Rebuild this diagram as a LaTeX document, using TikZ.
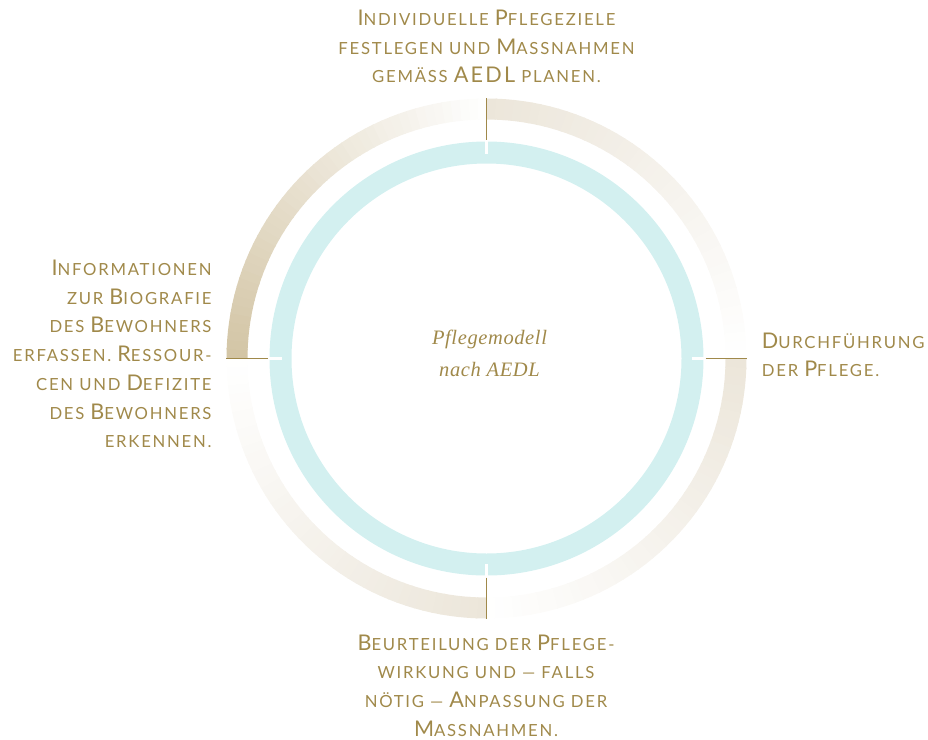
\documentclass[tikz,border=0pt]{standalone}
\usepackage{fontspec}
\usetikzlibrary{positioning}
\newfontfamily\phasefont[LetterSpace=10.5]{Lato}
\newfontfamily\hubfont[LetterSpace=3]{Liberation Serif}
\newcommand*{\Ini}[1]{{\fontsize{21.6}{28.7}\selectfont #1}}
\definecolor{gold}{RGB}{160,137,74}
\definecolor{cyanring}{RGB}{211,240,240}
\definecolor{tanA}{RGB}{211,197,165}
\definecolor{tanB}{RGB}{236,230,218}

\begin{document}
\begin{tikzpicture}[x=1pt,y=1pt]
	\tikzset{phase/.style={text=gold, inner sep=0pt, font=\phasefont\fontsize{16.7}{28.7}\selectfont}}
	\tikzset{ring/.style={line width=21pt}}
	\tikzset{goldtick/.style={draw=gold, line width=1.2pt}}
	\tikzset{whitetick/.style={draw=white, line width=3pt}}
	\useasboundingbox (0,0) rectangle (928,-739);
	
	\coordinate (C) at (486.5,-358.5);
	
	\draw[cyanring, line width=22pt] (C) circle[radius=206pt];% inner ring
	
	% outer ring: four quarters fading clockwise
	\foreach \a/\col in {180/tanA, 90/tanB, 0/tanB, -90/tanB}{
		\foreach \i in {0,...,44}{
			\pgfmathsetmacro{\s}{\a-2*\i}
			\pgfmathsetmacro{\e}{max(\a-2*\i-2.3,\a-90)}
			\pgfmathtruncatemacro{\p}{100-100*\i/45}
			\draw[ring, draw=\col!\p!white] ([shift={(\s:249.5pt)}]C) arc[start angle=\s, end angle=\e, radius=249.5pt];
		}
	}
	
	\foreach \a in {0,90,180,270}{
		\draw[goldtick] ([shift={(\a:219pt)}]C) -- ([shift={(\a:260.5pt)}]C);
		\draw[whitetick] ([shift={(\a:205pt)}]C) -- ([shift={(\a:217.5pt)}]C);
	}
	
	%%%%%%%%%%%%%%%%%%%%%%%%%%%%%%
	
	\node[text=gold, align=center, inner sep=0pt, anchor=base, font=\hubfont\itshape\fontsize{20.5}{32}\selectfont] (M) at (489.5,-376.5) {Pflegemodell\\nach AEDL};
	
	\node[phase, anchor=base, align=center] (T1) at (486.5,-82.7) {\Ini{I}NDIVIDUELLE \Ini{P}FLEGEZIELE\\FESTLEGEN UND \Ini{M}ASSNAHMEN\\GEMÄSS \Ini{AEDL} PLANEN.};
	\node[phase, anchor=base west, align=left] (T2) at (761.7,-376.7) {\Ini{D}URCHFÜHRUNG\\DER \Ini{P}FLEGE.};
	\node[phase, anchor=base, align=center] (T3) at (486,-736.2) {\Ini{B}EURTEILUNG DER \Ini{P}FLEGE-\\WIRKUNG UND — FALLS\\NÖTIG — \Ini{A}NPASSUNG DER\\\Ini{M}ASSNAHMEN.};
	\node[phase, anchor=base east, align=right] (T4) at (211.7,-447.7) {\Ini{I}NFORMATIONEN\\ZUR \Ini{B}IOGRAFIE\\DES \Ini{B}EWOHNERS\\ERFASSEN. \Ini{R}ESSOUR-\\CEN UND \Ini{D}EFIZITE\\DES \Ini{B}EWOHNERS\\ERKENNEN.};
	
\end{tikzpicture}
\end{document}
